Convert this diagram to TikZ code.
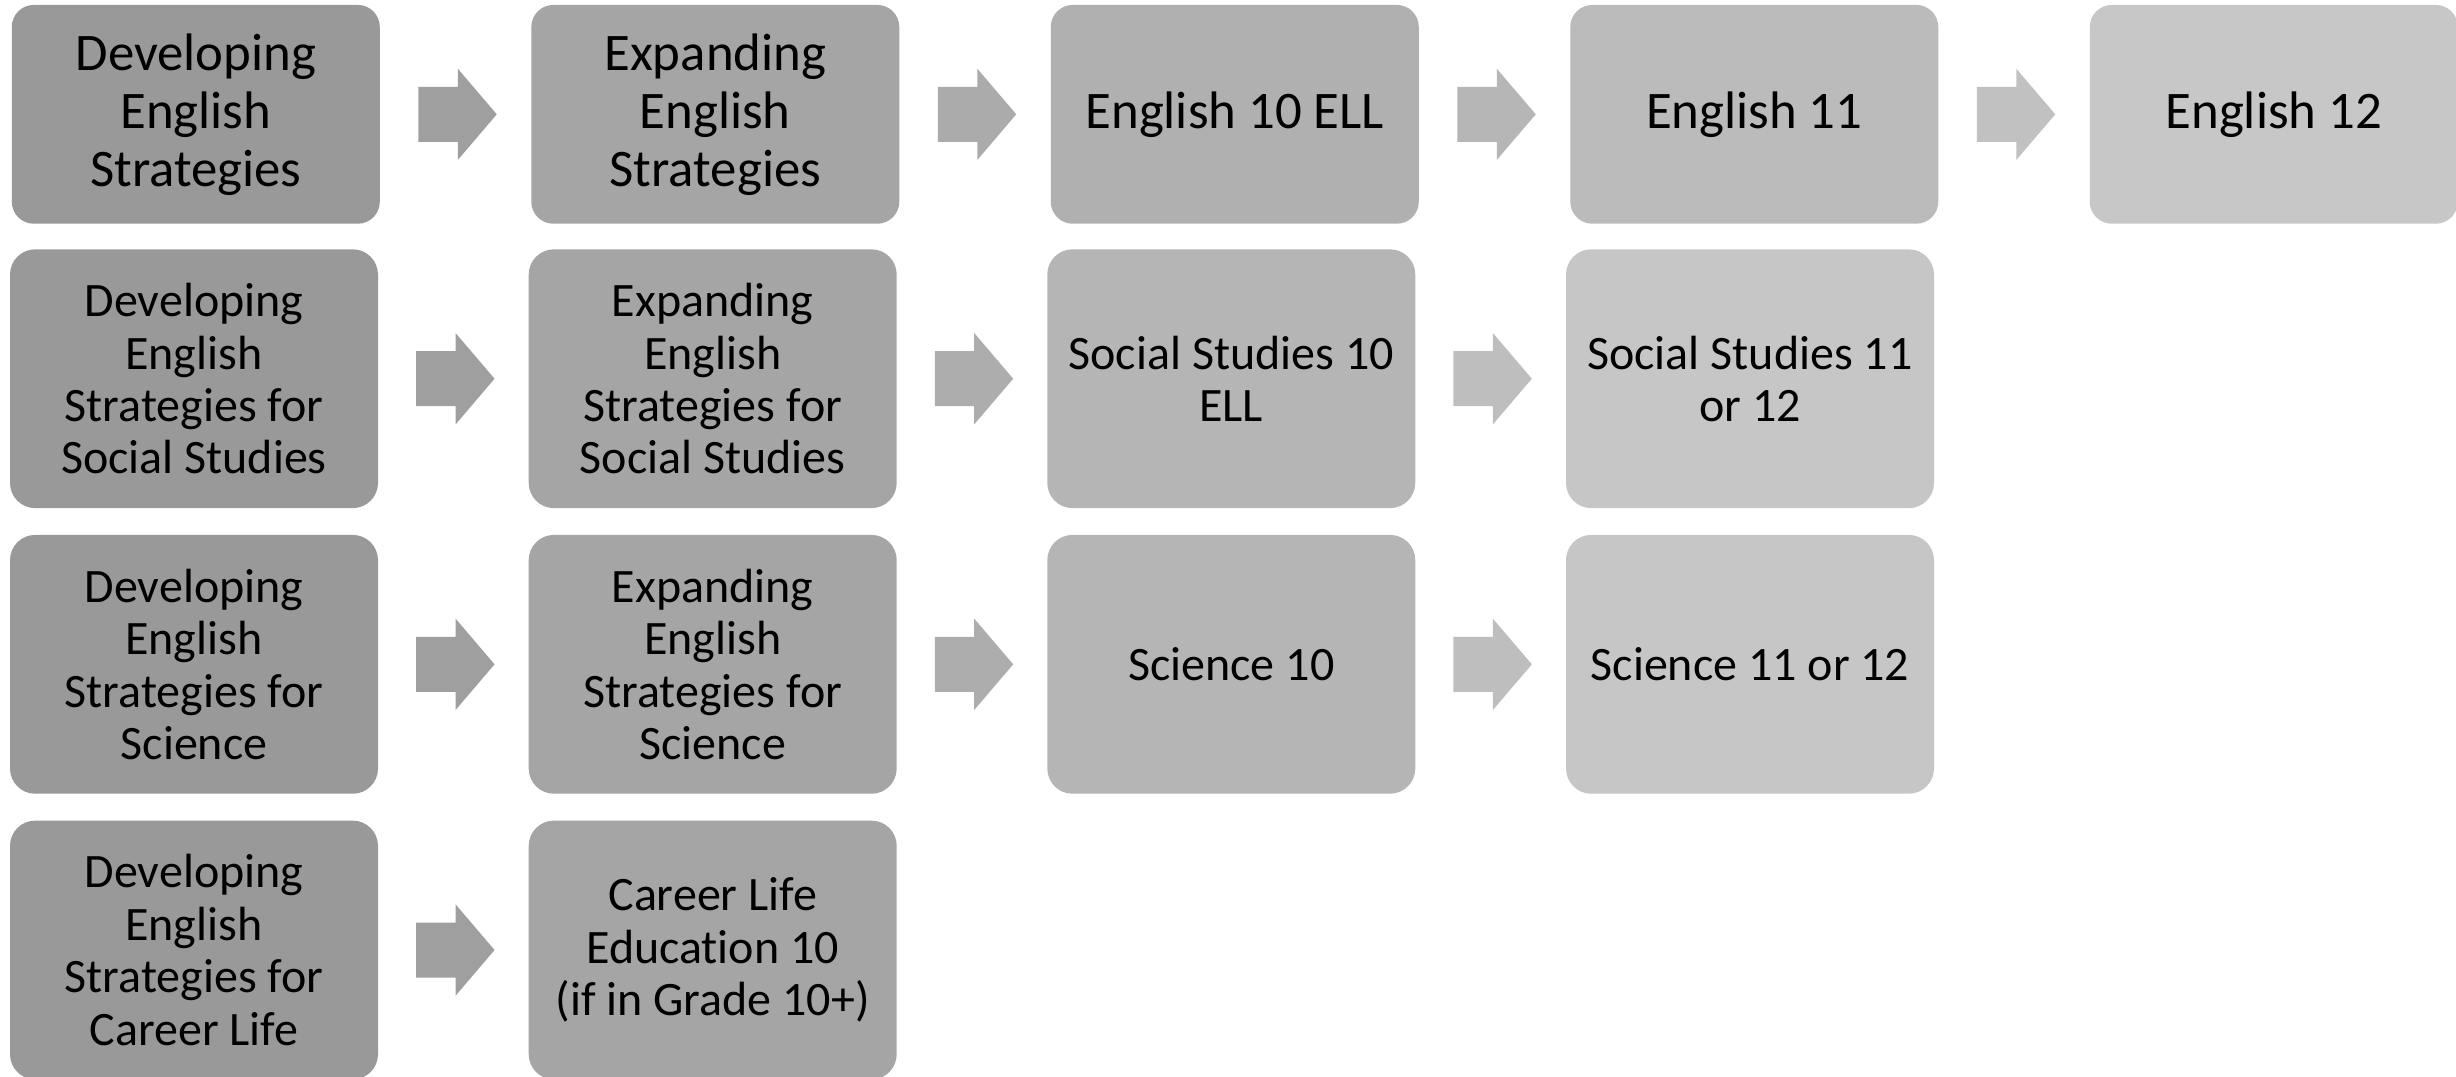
\documentclass[tikz,border=0pt]{standalone}
\usepackage{fontspec}
\setmainfont{Carlito}[Ligatures={NoCommon}]
\usetikzlibrary{calc}
\definecolor{rAa}{HTML}{999999}
\definecolor{rAb}{HTML}{A5A5A5}
\definecolor{rAc}{HTML}{B0B0B0}
\definecolor{rAd}{HTML}{BBBBBB}
\definecolor{rAe}{HTML}{C7C7C7}
\definecolor{rBa}{HTML}{999999}
\definecolor{rBb}{HTML}{A5A5A5}
\definecolor{rBc}{HTML}{B5B5B5}
\definecolor{rBd}{HTML}{C6C6C6}
\definecolor{aAa}{HTML}{9F9F9F}
\definecolor{aAb}{HTML}{ABABAB}
\definecolor{aAc}{HTML}{B6B6B6}
\definecolor{aAd}{HTML}{C1C1C1}
\definecolor{aBa}{HTML}{9F9F9F}
\definecolor{aBb}{HTML}{ADADAD}
\definecolor{aBc}{HTML}{BEBEBE}
\begin{document}
\begin{tikzpicture}[x=0.25pt,y=-0.25pt,
  box/.style={rectangle, inner sep=0pt, outer sep=0pt, minimum width=92pt, align=center, text=black},
  boxA/.style={box, minimum height=54.7pt, rounded corners=5.5pt, font=\fontsize{13.2}{14.5}\selectfont},
  boxB/.style={box, minimum height=64.7pt, rounded corners=6.3pt, font=\fontsize{12}{13.1}\selectfont},
  pics/blockarr/.style={code={\fill[#1] (-39.2,-27.5) -- (0.2,-27.5) -- (0.2,-45.7) -- (39.2,0) -- (0.2,45.7) -- (0.2,27.5) -- (-39.2,27.5) -- cycle;}}
]
\useasboundingbox (0,0) rectangle (2456,1076);
% Row 1
\node[boxA, fill=rAa] (a1) at (195.8,114.3) {Developing\\English\\Strategies};
\node[boxA, fill=rAb] (a2) at (715.3,114.3) {Expanding\\English\\Strategies};
\node[boxA, fill=rAc] (a3) at (1234.8,114.3) {English 10 ELL};
\node[boxA, fill=rAd] (a4) at (1754.3,114.3) {English 11};
\node[boxA, fill=rAe] (a5) at (2273.8,114.3) {English 12};
\pic at ($(a1.east)!0.5!(a2.west)+(2,0)$) {blockarr=aAa};
\pic at ($(a2.east)!0.5!(a3.west)+(2,0)$) {blockarr=aAb};
\pic at ($(a3.east)!0.5!(a4.west)+(2,0)$) {blockarr=aAc};
\pic at ($(a4.east)!0.5!(a5.west)+(2,0)$) {blockarr=aAd};
% Row 2
\node[boxB, fill=rBa] (b1) at (194,378.7) {Developing\\English\\Strategies for\\Social Studies};
\node[boxB, fill=rBb] (b2) at (712.7,378.7) {Expanding\\English\\Strategies for\\Social Studies};
\node[boxB, fill=rBc] (b3) at (1231.3,378.7) {Social Studies 10\\ELL};
\node[boxB, fill=rBd] (b4) at (1750,378.7) {Social Studies 11\\or 12};
\pic at ($(b1.east)!0.5!(b2.west)+(2,0)$) {blockarr=aBa};
\pic at ($(b2.east)!0.5!(b3.west)+(2,0)$) {blockarr=aBb};
\pic at ($(b3.east)!0.5!(b4.west)+(2,0)$) {blockarr=aBc};
% Row 3
\node[boxB, fill=rBa] (c1) at (194,664.3) {Developing\\English\\Strategies for\\Science};
\node[boxB, fill=rBb] (c2) at (712.7,664.3) {Expanding\\English\\Strategies for\\Science};
\node[boxB, fill=rBc] (c3) at (1231.3,664.3) {Science 10};
\node[boxB, fill=rBd] (c4) at (1750,664.3) {Science 11 or 12};
\pic at ($(c1.east)!0.5!(c2.west)+(2,0)$) {blockarr=aBa};
\pic at ($(c2.east)!0.5!(c3.west)+(2,0)$) {blockarr=aBb};
\pic at ($(c3.east)!0.5!(c4.west)+(2,0)$) {blockarr=aBc};
% Row 4
\node[boxB, fill=rBa] (d1) at (194,950) {Developing\\English\\Strategies for\\Career Life};
\node[boxB, fill=rBb] (d2) at (712.7,950) {Career Life\\Education 10\\(if in Grade 10+)};
\pic at ($(d1.east)!0.5!(d2.west)+(2,0)$) {blockarr=aBa};
\end{tikzpicture}
\end{document}
